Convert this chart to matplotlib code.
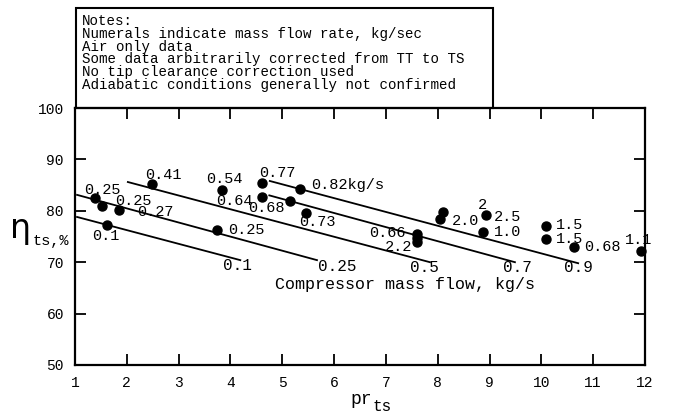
import matplotlib
matplotlib.use("Agg")
import matplotlib.pyplot as plt
from matplotlib.patches import Rectangle

# ---- data ----
pr_points = [1.39, 1.52, 1.85, 1.61, 2.48, 3.83, 3.74, 4.61, 4.61, 5.15, 5.34, 5.46,
             8.10, 8.05, 7.60, 7.60, 7.60, 8.93, 8.88, 10.09, 10.09, 10.63, 11.93]
eta_points = [82.5, 80.9, 80.2, 77.2, 85.2, 84.0, 76.2, 85.4, 82.7, 81.9, 84.2, 79.6,
              79.8, 78.4, 75.5, 74.7, 73.9, 79.2, 75.9, 77.0, 74.5, 73.0, 72.2]

point_labels = ["0.25", "0.25", "0.27", "0.1", "0.41", "0.54", "0.25", "0.77", "0.64",
                "0.68", "0.82kg/s", "0.73", "0.66", "2.2", "2.0", "2", "2.5", "1.0",
                "1.5", "1.5", "0.68", "1.1"]
point_label_x = [1.52, 2.12, 2.56, 1.60, 2.70, 3.88, 4.30, 4.90, 4.07, 4.69, 6.26, 5.67,
                 7.02, 7.24, 8.53, 8.86, 9.34, 9.34, 10.54, 10.54, 11.17, 11.87]
point_label_y = [84.0, 82.0, 79.8, 75.1, 87.0, 86.2, 76.3, 87.3, 81.9, 80.5, 85.0, 77.8,
                 75.6, 72.9, 78.0, 81.1, 78.8, 75.9, 77.2, 74.5, 73.0, 74.3]

# constant mass-flow lines (kg/s): start / end points
flow_names = ["0.1", "0.25", "0.5", "0.7", "0.9"]
flow_x0 = [1.04, 1.04, 2.02, 4.75, 4.76]
flow_y0 = [78.8, 83.1, 85.6, 83.0, 85.8]
flow_x1 = [4.19, 5.67, 7.85, 9.49, 10.71]
flow_y1 = [70.4, 70.4, 70.0, 70.0, 69.8]
flow_label_x = [4.13, 6.06, 7.74, 9.53, 10.71]
flow_label_y = [69.3, 69.1, 68.9, 68.9, 68.9]

x_ticks = list(range(1, 13))
y_ticks = [50, 60, 70, 80, 90, 100]

notes = ["Notes:",
         "Numerals indicate mass flow rate, kg/sec",
         "Air only data",
         "Some data arbitrarily corrected from TT to TS",
         "No tip clearance correction used",
         "Adiabatic conditions generally not confirmed"]

MONO = "Liberation Mono"

fig = plt.figure(figsize=(6.74, 4.15), dpi=100)
W, H = 674, 415
ax = fig.add_axes([75 / W, 1 - 365 / H, 570 / W, 257 / H])
ax.set_xlim(1, 12)
ax.set_ylim(50, 100)

for s in ax.spines.values():
    s.set_linewidth(1.6)

ax.set_xticks(x_ticks)
ax.set_yticks(y_ticks)
ax.tick_params(direction="in", length=8, width=1.3, top=True, right=True,
               labelsize=10.5, pad=8)
for lab in ax.get_xticklabels() + ax.get_yticklabels():
    lab.set_fontfamily(MONO)

# lines of constant mass flow
for i in range(len(flow_names)):
    ax.plot([flow_x0[i], flow_x1[i]], [flow_y0[i], flow_y1[i]], color="black", lw=1.3)
    ax.text(flow_label_x[i], flow_label_y[i], flow_names[i], fontsize=11.5,
            family=MONO, ha="center", va="center")

# data points
ax.plot(pr_points, eta_points, "o", color="black", ms=6.5, clip_on=False, zorder=3)
for t, x, y in zip(point_labels, point_label_x, point_label_y):
    ax.text(x, y, t, fontsize=11, family=MONO, ha="center", va="center",
            clip_on=False)

ax.text(4.86, 65.6, "Compressor mass flow, kg/s", fontsize=12, family=MONO,
        ha="left", va="center")

# notes box
fig.patches.append(Rectangle((76 / W, 1 - 108 / H), (493 - 76) / W, 100 / H,
                             transform=fig.transFigure, fill=False,
                             edgecolor="black", lw=1.5))
for i, line in enumerate(notes):
    fig.text(82 / W, 1 - (21 + 12.8 * i) / H, line, fontsize=10.2, family=MONO,
             ha="left", va="center")

# axis labels
fig.text(10 / W, 1 - 238 / H, "\u03b7", fontsize=24, family="DejaVu Sans",
         ha="left", va="baseline")
fig.text(33 / W, 1 - 245 / H, "ts,%", fontsize=11, family=MONO,
         ha="left", va="baseline")
fig.text(350 / W, 1 - 404 / H, "pr", fontsize=13, family=MONO,
         ha="left", va="baseline")
fig.text(373 / W, 1 - 411 / H, "ts", fontsize=11.5, family=MONO,
         ha="left", va="baseline")

fig.savefig("out.png", dpi=100)
